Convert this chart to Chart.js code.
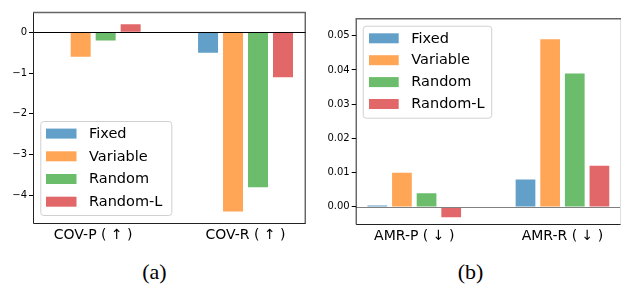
<!DOCTYPE html>
<html>
<head>
<meta charset="utf-8">
<script src="https://cdn.jsdelivr.net/npm/chart.js@4/dist/chart.umd.min.js"></script>
<style>
  html, body { margin: 0; padding: 0; background: #fff; }
  body { width: 621px; height: 284px; position: relative; overflow: hidden; }
  canvas { position: absolute; top: 0; }
  #ca { left: 0; }
  #cb { left: 310px; }
  .cap { position: absolute; top: 259px; width: 60px; text-align: center;
         font-family: "Liberation Serif", "DejaVu Serif", serif; font-size: 22px; line-height: 26px; color: #000; }
</style>
</head>
<body>
<canvas id="ca" width="310" height="250"></canvas>
<canvas id="cb" width="311" height="250"></canvas>
<div class="cap" style="left:124.5px">(a)</div>
<div class="cap" style="left:440.5px">(b)</div>
<script>
// ---- data ----
const seriesNames = ['Fixed', 'Variable', 'Random', 'Random-L'];
const seriesColors = ['rgba(31,119,180,0.7)', 'rgba(255,127,14,0.7)', 'rgba(44,160,44,0.7)', 'rgba(214,39,40,0.7)'];

const categoriesA = ['COV-P ( \u2191 )', 'COV-R ( \u2191 )'];
const fixedA    = [0, -0.5];
const variableA = [-0.6, -4.4];
const randomA   = [-0.2, -3.8];
const randomLA  = [0.2, -1.1];
const yTicksA   = [0, -1, -2, -3, -4];

const categoriesB = ['AMR-P ( \u2193 )', 'AMR-R ( \u2193 )'];
const fixedB    = [0.0004, 0.008];
const variableB = [0.010, 0.049];
const randomB   = [0.004, 0.039];
const randomLB  = [-0.003, 0.012];
const yTicksB   = [0, 0.01, 0.02, 0.03, 0.04, 0.05];

// ---- helpers ----
const spinesPlugin = {
  id: 'spines',
  afterDatasetsDraw(chart, args, opts) {
    const { ctx, chartArea: a, scales } = chart;
    ctx.save();
    const y0 = scales.y.getPixelForValue(0);
    ctx.strokeStyle = opts.zeroColor;
    ctx.lineWidth = 1;
    ctx.beginPath(); ctx.moveTo(a.left, Math.round(y0) + 0.5); ctx.lineTo(a.right, Math.round(y0) + 0.5); ctx.stroke();
    ctx.strokeStyle = '#222';
    ctx.lineWidth = 1;
    ctx.beginPath();
    ctx.moveTo(a.left + 0.5, a.top); ctx.lineTo(a.left + 0.5, a.bottom + 0.5);
    ctx.lineTo(a.right, a.bottom + 0.5);
    ctx.stroke();
    ctx.strokeStyle = opts.rightColor;
    ctx.beginPath(); ctx.moveTo(a.right - 0.5, a.top); ctx.lineTo(a.right - 0.5, a.bottom + 0.5); ctx.stroke();
    ctx.strokeStyle = '#666';
    ctx.lineWidth = 1.6;
    ctx.beginPath(); ctx.moveTo(a.left, a.top + 0.5); ctx.lineTo(a.right, a.top + 0.5); ctx.stroke();
    ctx.restore();
  }
};

const legendPlugin = {
  id: 'boxLegend',
  afterDraw(chart, args, o) {
    const { ctx, chartArea: a } = chart;
    const x = a.left + o.dx;
    const y = o.fromBottom ? a.bottom - o.dy - o.h : a.top + o.dy;
    ctx.save();
    ctx.fillStyle = 'rgba(255,255,255,0.8)';
    ctx.strokeStyle = '#d0d0d0';
    ctx.lineWidth = 1;
    ctx.beginPath();
    ctx.roundRect(x + 0.5, y + 0.5, o.w, o.h, 3);
    ctx.fill(); ctx.stroke();
    ctx.font = o.font;
    ctx.textBaseline = 'middle';
    chart.data.datasets.forEach((ds, i) => {
      const cy = y + o.first + i * o.step;
      ctx.fillStyle = ds.backgroundColor;
      ctx.fillRect(x + o.px, cy - 5, o.pw, 10);
      ctx.fillStyle = '#000';
      ctx.fillText(ds.label, x + o.tx, cy + 0.5);
    });
    ctx.restore();
  }
};

function makeChart(id, cats, series, yTicks, fmt, ymin, ymax, geom, legend, zeroColor, rightColor) {
  const datasets = series.map((vals, i) => ({
    label: seriesNames[i],
    data: cats.map((c, j) => ({ x: j, y: vals[j] })),
    backgroundColor: seriesColors[i],
    borderWidth: 0,
    categoryPercentage: geom.cp,
    barPercentage: 0.8
  }));
  return new Chart(document.getElementById(id), {
    type: 'bar',
    data: { datasets },
    options: {
      responsive: false,
      animation: false,
      devicePixelRatio: 1,
      layout: { padding: { top: geom.top, right: geom.right, left: 0, bottom: 0 } },
      plugins: {
        legend: { display: false },
        tooltip: { enabled: false },
        spines: { zeroColor, rightColor },
        boxLegend: legend
      },
      scales: {
        x: {
          type: 'linear',
          offset: false,
          min: -0.395, max: 1.395,
          afterBuildTicks: s => { s.ticks = cats.map((c, j) => ({ value: j })); },
          afterFit: s => { s.height = geom.xh; },
          grid: { display: false, drawTicks: false, offset: false },
          border: { display: false },
          ticks: {
            callback: v => cats[v],
            font: { family: 'DejaVu Sans', size: 14 },
            color: '#000',
            padding: 4,
            maxRotation: 0,
            autoSkip: false
          }
        },
        y: {
          min: ymin, max: ymax,
          afterBuildTicks: s => { s.ticks = yTicks.map(v => ({ value: v })); },
          afterFit: s => { s.width = geom.yw; },
          grid: { drawOnChartArea: false, drawTicks: true, tickLength: 4, color: '#000', lineWidth: 1 },
          border: { display: false },
          ticks: {
            callback: fmt,
            font: { family: 'DejaVu Sans', size: 10 },
            color: '#000',
            padding: 2
          }
        }
      }
    },
    plugins: [spinesPlugin, legendPlugin]
  });
}

makeChart('ca', categoriesA, [fixedA, variableA, randomA, randomLA], yTicksA,
  v => (v < 0 ? '\u2212' + Math.abs(v) : String(v)),
  -4.68, 0.5,
  { top: 12, right: 4.3, yw: 33, xh: 27, cp: 0.656 },
  { dx: 7.3, dy: 8, fromBottom: true, w: 131, h: 94, first: 12.6, step: 22.7, px: 5.7, pw: 30.5, tx: 48.7, font: '14.5px "DejaVu Sans"' },
  '#000', '#222');

makeChart('cb', categoriesB, [fixedB, variableB, randomB, randomLB], yTicksB,
  v => v.toFixed(2),
  -0.005, 0.0551,
  { top: 18.3, right: 0, yw: 45.7, xh: 26, cp: 0.665 },
  { dx: 7, dy: 7.4, fromBottom: false, w: 128.5, h: 92, first: 12.6, step: 21.9, px: 6.3, pw: 29.7, tx: 48.6, font: '14.5px "DejaVu Sans"' },
  '#808080', '#e0e0e0');
</script>
</body>
</html>
